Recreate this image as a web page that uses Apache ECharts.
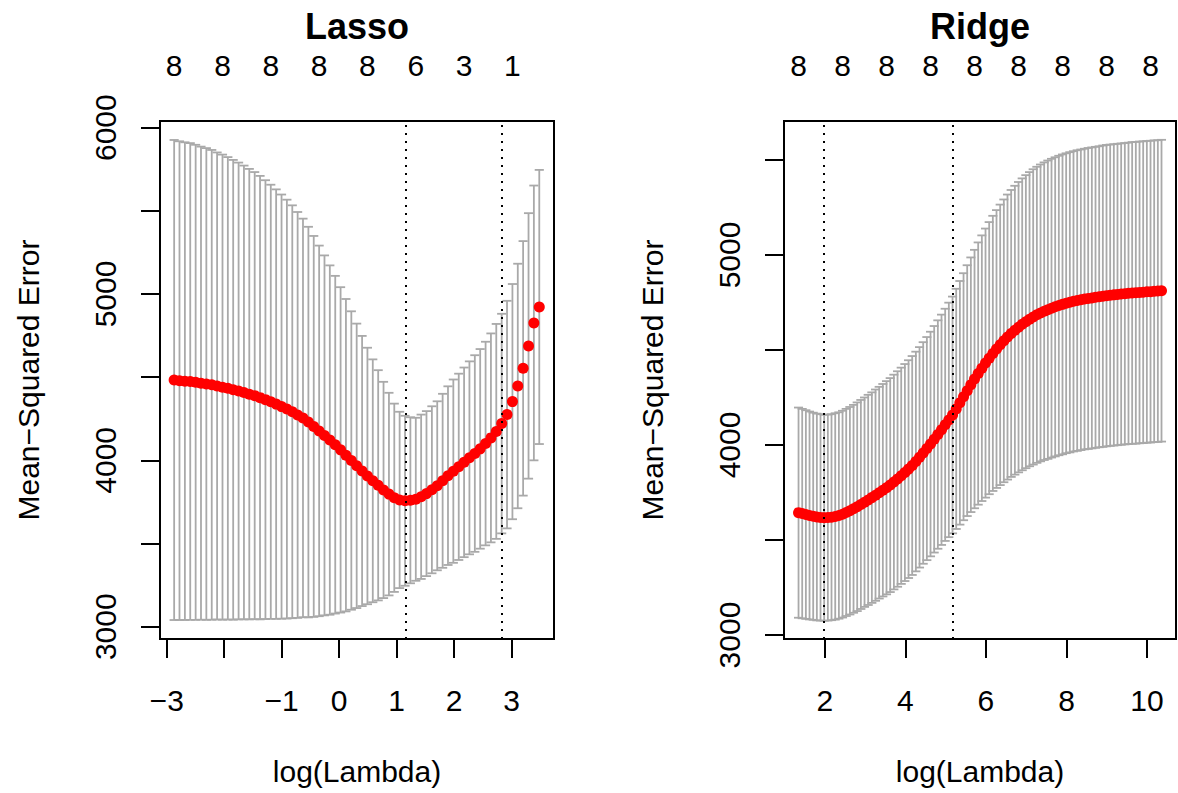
<!DOCTYPE html>
<html lang="en">
<head>
<meta charset="UTF-8">
<title>cv.glmnet - Lasso / Ridge</title>
<script src="https://cdn.jsdelivr.net/npm/echarts@6/dist/echarts.min.js"></script>
<style>
  html, body { margin: 0; padding: 0; background: #fff; }
  #main { width: 1178px; height: 793px; }
</style>
</head>
<body>
<div id="main"></div>
<script>
    // ---- Lasso: log(lambda), CV mean, CV sd ----
    var lassoLogLambda = [-2.871, -2.778, -2.684, -2.591, -2.497, -2.404, -2.311, -2.217, -2.124, -2.030,
        -1.937, -1.844, -1.750, -1.657, -1.564, -1.470, -1.377, -1.283, -1.190, -1.097,
        -1.003, -0.910, -0.816, -0.723, -0.630, -0.536, -0.443, -0.349, -0.256, -0.163,
        -0.069, 0.024, 0.117, 0.211, 0.304, 0.398, 0.491, 0.584, 0.678, 0.771,
        0.865, 0.958, 1.051, 1.145, 1.238, 1.332, 1.425, 1.518, 1.612, 1.705,
        1.799, 1.892, 1.985, 2.079, 2.172, 2.265, 2.359, 2.452, 2.546, 2.639,
        2.732, 2.826, 2.919, 3.013, 3.106, 3.199, 3.293, 3.386, 3.480];
    var lassoCvm = [4483, 4479, 4476, 4474, 4469, 4464, 4459, 4454, 4447, 4440,
        4433, 4424, 4417, 4408, 4398, 4389, 4377, 4365, 4352, 4338,
        4323, 4308, 4292, 4273, 4255, 4230, 4204, 4177, 4150, 4122,
        4094, 4063, 4031, 3999, 3967, 3936, 3906, 3877, 3850, 3822,
        3797, 3775, 3762, 3757, 3760, 3766, 3781, 3800, 3823, 3847,
        3877, 3908, 3935, 3961, 3988, 4015, 4041, 4069, 4101, 4135,
        4174, 4221, 4275, 4353, 4447, 4553, 4688, 4826, 4922];
    var lassoCvsd = [1443, 1439, 1436, 1433, 1428, 1422, 1418, 1412, 1404, 1398,
        1390, 1382, 1373, 1364, 1354, 1344, 1333, 1319, 1305, 1291,
        1275, 1259, 1241, 1220, 1198, 1174, 1145, 1114, 1082, 1050,
        1015, 978, 939, 897, 855, 812, 771, 730, 692, 650,
        609, 566, 530, 511, 499, 490, 494, 496, 502, 508,
        523, 537, 551, 560, 570, 580, 591, 600, 612, 628,
        646, 660, 684, 707, 735, 765, 798, 826, 824];
    var lassoNzAt = [-2.871, -2.030, -1.190, -0.349, 0.491, 1.332, 2.172, 3.013];
    var lassoNz = ['8', '8', '8', '8', '8', '6', '3', '1'];
    var lassoLambdaLines = [1.145, 2.826];
    var lassoXTicks = [-3, -2, -1, 0, 1, 2, 3];
    var lassoXLabels = [-3, -1, 0, 1, 2, 3];
    var lassoYTicks = [3000, 3500, 4000, 4500, 5000, 5500, 6000];
    var lassoYLabels = [3000, 4000, 5000, 6000];

    // ---- Ridge ----
    var ridgeLogLambda = [1.345, 1.436, 1.527, 1.618, 1.709, 1.800, 1.891, 1.982, 2.073, 2.164,
        2.256, 2.347, 2.438, 2.529, 2.620, 2.711, 2.802, 2.893, 2.984, 3.075,
        3.166, 3.257, 3.348, 3.439, 3.530, 3.622, 3.713, 3.804, 3.895, 3.986,
        4.077, 4.168, 4.259, 4.350, 4.441, 4.532, 4.623, 4.714, 4.805, 4.896,
        4.987, 5.078, 5.170, 5.261, 5.352, 5.443, 5.534, 5.625, 5.716, 5.807,
        5.898, 5.989, 6.080, 6.171, 6.262, 6.353, 6.444, 6.535, 6.626, 6.718,
        6.809, 6.900, 6.991, 7.082, 7.173, 7.264, 7.355, 7.446, 7.537, 7.628,
        7.719, 7.810, 7.901, 7.992, 8.083, 8.174, 8.266, 8.357, 8.448, 8.539,
        8.630, 8.721, 8.812, 8.903, 8.994, 9.085, 9.176, 9.267, 9.358, 9.449,
        9.540, 9.631, 9.722, 9.814, 9.905, 9.996, 10.087, 10.178, 10.269, 10.360];
    var ridgeCvm = [3644, 3639, 3634, 3629, 3625, 3621, 3619, 3617, 3618, 3620,
        3624, 3629, 3636, 3645, 3654, 3664, 3675, 3687, 3699, 3711,
        3723, 3736, 3749, 3762, 3775, 3789, 3805, 3821, 3838, 3855,
        3873, 3892, 3913, 3935, 3958, 3981, 4005, 4030, 4055, 4080,
        4106, 4132, 4158, 4190, 4222, 4254, 4286, 4317, 4347, 4376,
        4404, 4431, 4457, 4482, 4505, 4527, 4548, 4568, 4587, 4604,
        4620, 4635, 4649, 4662, 4674, 4685, 4695, 4704, 4712, 4720,
        4727, 4734, 4740, 4746, 4751, 4756, 4760, 4764, 4768, 4771,
        4774, 4777, 4780, 4783, 4786, 4788, 4790, 4792, 4794, 4796,
        4798, 4800, 4801, 4803, 4804, 4806, 4807, 4809, 4810, 4812];
    var ridgeCvsd = [553, 551, 549, 547, 545, 544, 543, 542, 542, 542,
        543, 543, 544, 545, 546, 547, 549, 550, 551, 553,
        554, 556, 557, 559, 561, 563, 565, 567, 569, 571,
        573, 576, 578, 580, 583, 587, 591, 596, 601, 606,
        611, 617, 623, 632, 641, 650, 660, 670, 680, 690,
        699, 708, 716, 724, 731, 738, 744, 750, 755, 760,
        764, 768, 771, 774, 777, 779, 781, 783, 785, 786,
        787, 788, 789, 789, 790, 790, 791, 791, 791, 792,
        792, 792, 792, 793, 793, 793, 793, 793, 793, 793,
        793, 794, 794, 794, 794, 794, 794, 794, 794, 794];
    var ridgeNzAt = [1.345, 2.438, 3.530, 4.623, 5.716, 6.809, 7.901, 8.994, 10.087];
    var ridgeNz = ['8', '8', '8', '8', '8', '8', '8', '8', '8'];
    var ridgeLambdaLines = [1.982, 5.170];
    var ridgeXTicks = [2, 4, 6, 8, 10];
    var ridgeXLabels = [2, 4, 6, 8, 10];
    var ridgeYTicks = [3000, 3500, 4000, 4500, 5000, 5500];
    var ridgeYLabels = [3000, 4000, 5000];

    var FONT = '"Liberation Sans", Arial, Helvetica, sans-serif';
    var FS = 30;

    function minus(v) {
        return String(v).replace('-', '\u2212');
    }

    function nzFormatter(at, nz) {
        return function (v) {
            var best = 0;
            for (var i = 1; i < at.length; i++) {
                if (Math.abs(at[i] - v) < Math.abs(at[best] - v)) best = i;
            }
            return nz[best];
        };
    }

    function labelStyle(extra) {
        var s = {color: '#000', fontSize: FS, fontFamily: FONT};
        for (var k in extra) s[k] = extra[k];
        return s;
    }

    function bottomAxis(grid, min, max, ticks, labels) {
        return {
            gridIndex: grid, type: 'value', position: 'bottom', min: min, max: max,
            axisLine: {show: false, onZero: false}, splitLine: {show: false},
            axisTick: {customValues: ticks, length: 19, lineStyle: {color: '#000', width: 2}},
            axisLabel: labelStyle({customValues: labels, formatter: minus, margin: 61, verticalAlign: 'middle'}),
            name: 'log(Lambda)', nameLocation: 'middle', nameGap: 117, nameMoveOverlap: false,
            nameTextStyle: {color: '#000', fontSize: FS, fontFamily: FONT}
        };
    }

    function topAxis(grid, min, max, at, nz) {
        return {
            gridIndex: grid, type: 'value', position: 'top', min: min, max: max,
            axisLine: {show: false, onZero: false}, splitLine: {show: false}, axisTick: {show: false},
            axisLabel: labelStyle({customValues: at, formatter: nzFormatter(at, nz), margin: 56, verticalAlign: 'middle'})
        };
    }

    function leftAxis(grid, min, max, ticks, labels) {
        return {
            gridIndex: grid, type: 'value', position: 'left', min: min, max: max,
            axisLine: {show: false, onZero: false}, splitLine: {show: false},
            axisTick: {customValues: ticks, length: 19, lineStyle: {color: '#000', width: 2}},
            axisLabel: labelStyle({customValues: labels, rotate: 90, margin: 40, formatter: function (v) { return String(v); }}),
            name: 'Mean\u2212Squared Error', nameLocation: 'middle', nameGap: 117, nameMoveOverlap: false,
            nameTextStyle: {color: '#000', fontSize: FS, fontFamily: FONT}
        };
    }

    function errorBars(xIdx, yIdx, xs, cvm, cvsd) {
        var half = (xs[xs.length - 1] - xs[0]) * 0.0125;
        return {
            type: 'custom', xAxisIndex: xIdx, yAxisIndex: yIdx, silent: true, animation: false,
            data: xs.map(function (x, i) { return [x, cvm[i] - cvsd[i], cvm[i] + cvsd[i]]; }),
            encode: {x: 0, y: [1, 2]},
            renderItem: function (params, api) {
                var lo = api.coord([api.value(0), api.value(1)]);
                var hi = api.coord([api.value(0), api.value(2)]);
                var w = api.size([half, 0])[0];
                var st = {stroke: '#A9A9A9', lineWidth: 1.8};
                return {
                    type: 'group', children: [
                        {type: 'line', shape: {x1: hi[0], y1: hi[1], x2: lo[0], y2: lo[1]}, style: st},
                        {type: 'line', shape: {x1: hi[0] - w, y1: hi[1], x2: hi[0] + w, y2: hi[1]}, style: st},
                        {type: 'line', shape: {x1: lo[0] - w, y1: lo[1], x2: lo[0] + w, y2: lo[1]}, style: st}
                    ]
                };
            }
        };
    }

    function meanPoints(xIdx, yIdx, xs, cvm, lines) {
        return {
            type: 'scatter', xAxisIndex: xIdx, yAxisIndex: yIdx, silent: true, animation: false,
            symbol: 'circle', symbolSize: 11, itemStyle: {color: '#FF0000', opacity: 1},
            data: xs.map(function (x, i) { return [x, cvm[i]]; }),
            markLine: {
                silent: true, animation: false, symbol: ['none', 'none'], label: {show: false},
                lineStyle: {color: '#000', type: [2, 6], width: 2, opacity: 1},
                data: lines.map(function (v) { return {xAxis: v}; })
            }
        };
    }

    var option = {
        backgroundColor: '#fff',
        animation: false,
        textStyle: {fontFamily: FONT},
        grid: [
            {left: 160, top: 121, width: 394, height: 518, show: true, borderColor: '#000', borderWidth: 2,
                backgroundColor: 'transparent', containLabel: false, outerBoundsMode: 'none'},
            {left: 784, top: 121, width: 392, height: 518, show: true, borderColor: '#000', borderWidth: 2,
                backgroundColor: 'transparent', containLabel: false, outerBoundsMode: 'none'}
        ],
        xAxis: [
            bottomAxis(0, -3.117, 3.736, lassoXTicks, lassoXLabels),
            topAxis(0, -3.117, 3.736, lassoNzAt, lassoNz),
            bottomAxis(1, 0.984, 10.72, ridgeXTicks, ridgeXLabels),
            topAxis(1, 0.984, 10.72, ridgeNzAt, ridgeNz)
        ],
        yAxis: [
            leftAxis(0, 2926, 6040, lassoYTicks, lassoYLabels),
            leftAxis(1, 2979, 5705, ridgeYTicks, ridgeYLabels)
        ],
        graphic: [
            {type: 'text', x: 357, y: 26, style: {text: 'Lasso', fill: '#000', font: 'bold 36px ' + FONT, textAlign: 'center', textVerticalAlign: 'middle'}},
            {type: 'text', x: 980, y: 26, style: {text: 'Ridge', fill: '#000', font: 'bold 36px ' + FONT, textAlign: 'center', textVerticalAlign: 'middle'}}
        ],
        series: [
            errorBars(0, 0, lassoLogLambda, lassoCvm, lassoCvsd),
            meanPoints(0, 0, lassoLogLambda, lassoCvm, lassoLambdaLines),
            errorBars(2, 1, ridgeLogLambda, ridgeCvm, ridgeCvsd),
            meanPoints(2, 1, ridgeLogLambda, ridgeCvm, ridgeLambdaLines)
        ]
    };

    var myChart = echarts.init(document.getElementById('main'), null, {renderer: 'svg'});
    myChart.setOption(option);
</script>
</body>
</html>
